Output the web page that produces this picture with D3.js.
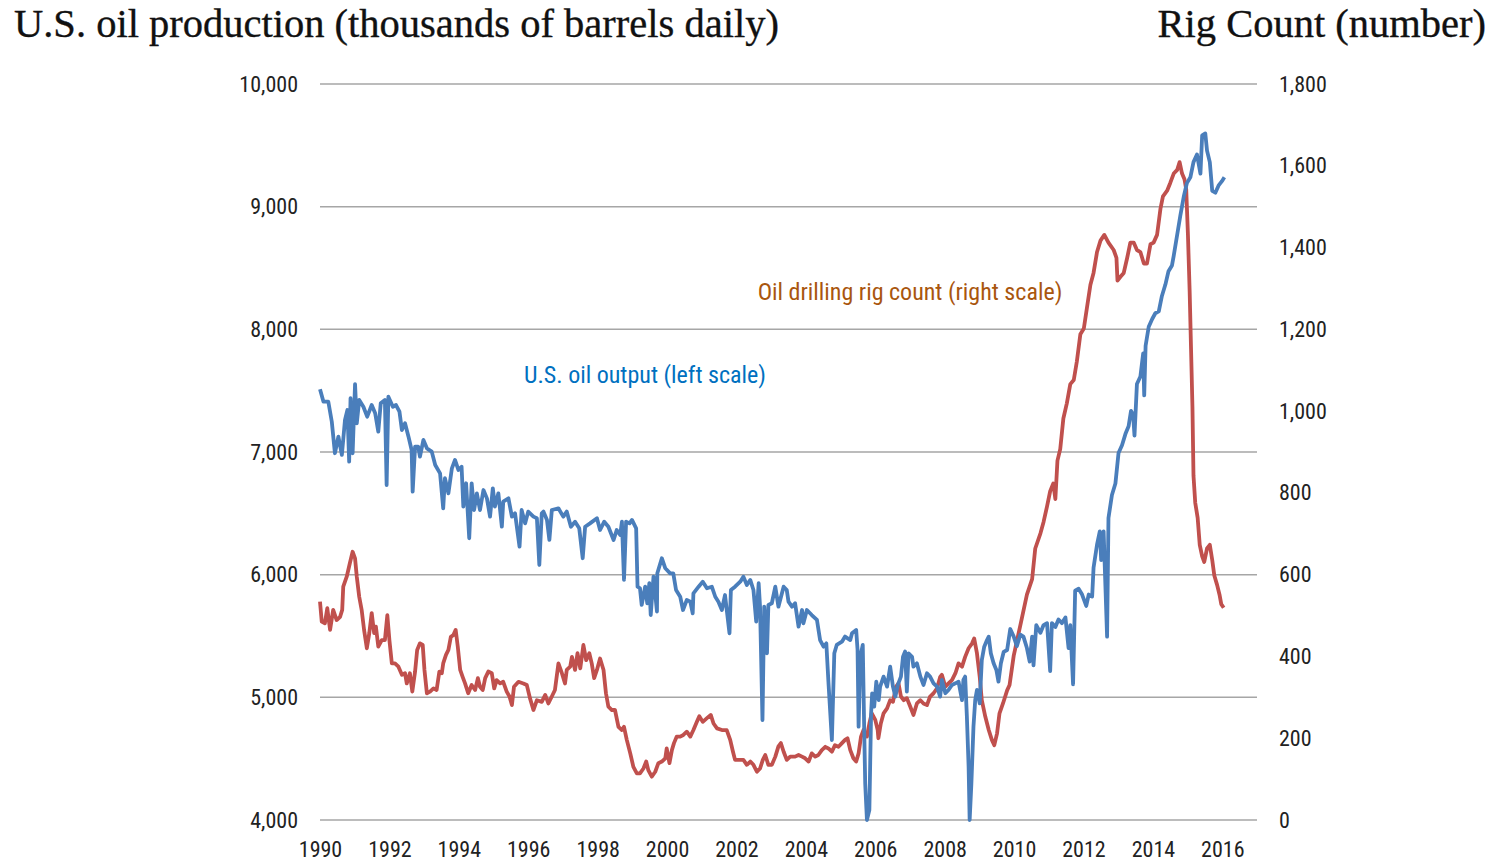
<!DOCTYPE html>
<html>
<head>
<meta charset="utf-8">
<script src="https://cdn.jsdelivr.net/npm/d3@7"></script>
<style>
  body { margin: 0; background: #fff; }
  .tick-label { font-family: "Liberation Sans Narrow", "Arial Narrow", "Roboto Condensed", sans-serif; font-size: 22px; fill: #222; }
  .series-label { font-family: "Liberation Sans Narrow", "Arial Narrow", "Roboto Condensed", sans-serif; font-size: 24px; }
  .title { font-family: "Liberation Serif", "DejaVu Serif", serif; font-size: 40.5px; fill: #111; stroke: #111; stroke-width: 0.35px; }
</style>
</head>
<body>
<div id="chart-area"></div>
<script>
/*
*    oil output vs rig count
*/
// weekly-ish readings, decimal years
var oilYears = [1990.00,1990.10,1990.24,1990.34,1990.43,1990.53,1990.63,1990.72,1990.79,1990.84,1990.88,1990.94,1991.01,1991.06,1991.13,1991.25,1991.36,1991.49,1991.59,1991.68,1991.75,1991.87,1991.92,1991.97,1992.10,1992.19,1992.29,1992.36,1992.45,1992.55,1992.64,1992.67,1992.74,1992.83,1992.88,1992.98,1993.08,1993.22,1993.32,1993.46,1993.55,1993.60,1993.70,1993.80,1993.89,1993.99,1994.08,1994.13,1994.21,1994.30,1994.37,1994.44,1994.52,1994.61,1994.71,1994.81,1994.90,1994.98,1995.04,1995.14,1995.24,1995.28,1995.43,1995.53,1995.62,1995.75,1995.81,1995.91,1996.00,1996.15,1996.25,1996.32,1996.39,1996.44,1996.54,1996.61,1996.68,1996.87,1997.01,1997.11,1997.23,1997.35,1997.47,1997.57,1997.64,1997.78,1997.98,1998.07,1998.19,1998.31,1998.46,1998.55,1998.65,1998.70,1998.76,1998.82,1998.92,1998.99,1999.11,1999.15,1999.22,1999.27,1999.37,1999.43,1999.49,1999.53,1999.61,1999.71,1999.72,1999.85,1999.95,2000.09,2000.18,2000.26,2000.38,2000.46,2000.57,2000.67,2000.74,2000.76,2000.91,2001.03,2001.15,2001.29,2001.39,2001.48,2001.58,2001.67,2001.80,2001.84,2001.96,2002.11,2002.20,2002.30,2002.40,2002.49,2002.57,2002.64,2002.68,2002.75,2002.80,2002.88,2002.92,2003.02,2003.12,2003.21,2003.26,2003.36,2003.45,2003.50,2003.60,2003.69,2003.79,2003.89,2003.93,2004.03,2004.17,2004.32,2004.41,2004.51,2004.59,2004.65,2004.75,2004.82,2004.89,2005.04,2005.13,2005.28,2005.33,2005.45,2005.49,2005.52,2005.57,2005.64,2005.68,2005.71,2005.76,2005.83,2005.88,2005.91,2005.97,2006.03,2006.10,2006.14,2006.24,2006.34,2006.43,2006.51,2006.58,2006.65,2006.74,2006.80,2006.86,2006.91,2006.96,2007.06,2007.10,2007.20,2007.30,2007.39,2007.49,2007.58,2007.68,2007.78,2007.87,2007.92,2008.02,2008.11,2008.21,2008.31,2008.40,2008.50,2008.54,2008.59,2008.64,2008.69,2008.72,2008.77,2008.83,2008.88,2008.93,2009.01,2009.07,2009.14,2009.22,2009.27,2009.33,2009.41,2009.49,2009.55,2009.62,2009.70,2009.80,2009.89,2009.99,2010.08,2010.18,2010.27,2010.37,2010.45,2010.52,2010.56,2010.64,2010.76,2010.85,2010.95,2011.04,2011.09,2011.19,2011.28,2011.38,2011.48,2011.57,2011.62,2011.70,2011.76,2011.86,2011.96,2012.08,2012.15,2012.25,2012.29,2012.39,2012.47,2012.51,2012.58,2012.68,2012.72,2012.82,2012.92,2013.01,2013.11,2013.21,2013.30,2013.37,2013.43,2013.47,2013.54,2013.64,2013.72,2013.75,2013.79,2013.88,2013.98,2014.07,2014.17,2014.26,2014.36,2014.45,2014.55,2014.60,2014.70,2014.79,2014.89,2014.98,2015.08,2015.17,2015.27,2015.37,2015.42,2015.51,2015.56,2015.64,2015.71,2015.80,2015.90,2015.99,2016.06];
var oilValues = [7511,7410,7410,7247,6990,7125,6976,7261,7342,6921,7438,6990,7554,7234,7424,7369,7288,7383,7316,7166,7397,7424,6731,7451,7369,7383,7329,7179,7234,7125,7016,6677,7043,7043,6962,7098,7030,7003,6894,6826,6541,6786,6663,6867,6935,6853,6880,6555,6745,6297,6745,6527,6663,6527,6690,6622,6473,6704,6555,6663,6391,6595,6622,6473,6500,6228,6527,6418,6514,6473,6460,6079,6500,6514,6446,6283,6527,6541,6473,6514,6391,6432,6378,6134,6391,6418,6460,6364,6432,6391,6283,6364,6323,6432,5957,6432,6418,6446,6378,5902,5889,5753,5902,5767,5930,5671,5984,5699,6011,6134,6052,6011,6011,5875,5820,5712,5794,5780,5685,5848,5902,5943,5889,5902,5820,5780,5712,5834,5522,5875,5902,5943,5984,5916,5957,5875,5617,5930,5739,4815,5739,5359,5753,5767,5902,5739,5794,5902,5875,5780,5739,5767,5576,5712,5604,5712,5671,5631,5467,5413,5440,5128,4652,5359,5427,5454,5495,5467,5522,5549,5386,4761,5331,5427,4761,4299,4000,4082,4870,5033,4924,5128,4978,5087,5169,5087,5250,5087,5006,5101,5169,5331,5373,5047,5359,5331,5250,5278,5169,5101,5196,5169,5114,5087,5006,5142,5033,5060,5101,5114,5128,4978,5142,5169,4843,4435,4000,4299,4761,4978,5060,4951,5304,5413,5467,5495,5359,5278,5223,5128,5278,5370,5386,5557,5495,5417,5511,5495,5402,5292,5495,5261,5589,5526,5589,5605,5214,5605,5573,5635,5605,5651,5402,5589,5105,5869,5885,5838,5745,5838,5822,6056,6244,6353,6119,6353,5495,6462,6650,6743,6992,7055,7148,7210,7335,7304,7133,7554,7616,7804,7461,7866,8021,8084,8131,8146,8272,8365,8474,8521,8599,8771,8926,9083,9192,9239,9363,9426,9270,9582,9597,9457,9363,9129,9114,9176,9208,9239];

var rigYears = [1990.00,1990.05,1990.14,1990.21,1990.29,1990.38,1990.48,1990.58,1990.64,1990.67,1990.77,1990.86,1990.94,1991.01,1991.06,1991.13,1991.20,1991.27,1991.35,1991.42,1991.49,1991.56,1991.61,1991.68,1991.78,1991.87,1991.94,1992.00,1992.07,1992.16,1992.26,1992.36,1992.45,1992.50,1992.59,1992.66,1992.74,1992.80,1992.88,1992.96,1993.01,1993.08,1993.17,1993.27,1993.36,1993.44,1993.51,1993.55,1993.63,1993.70,1993.77,1993.84,1993.91,1993.97,1994.04,1994.11,1994.18,1994.27,1994.37,1994.47,1994.55,1994.61,1994.69,1994.76,1994.85,1994.95,1995.02,1995.09,1995.19,1995.28,1995.38,1995.46,1995.53,1995.59,1995.72,1995.86,1995.96,1996.05,1996.15,1996.25,1996.39,1996.49,1996.58,1996.68,1996.77,1996.87,1996.97,1997.06,1997.11,1997.21,1997.26,1997.35,1997.42,1997.50,1997.59,1997.67,1997.76,1997.83,1997.90,1997.98,1998.07,1998.17,1998.24,1998.31,1998.41,1998.50,1998.60,1998.70,1998.76,1998.84,1998.94,1999.03,1999.13,1999.22,1999.32,1999.40,1999.46,1999.56,1999.66,1999.75,1999.85,1999.95,1999.99,2000.07,2000.14,2000.20,2000.28,2000.38,2000.47,2000.57,2000.67,2000.76,2000.86,2000.93,2001.03,2001.15,2001.26,2001.34,2001.44,2001.58,2001.72,2001.82,2001.90,2001.96,2002.06,2002.20,2002.30,2002.40,2002.49,2002.59,2002.68,2002.76,2002.83,2002.92,2003.02,2003.12,2003.21,2003.28,2003.36,2003.45,2003.55,2003.69,2003.79,2003.89,2003.98,2004.08,2004.17,2004.27,2004.36,2004.46,2004.56,2004.65,2004.75,2004.84,2004.94,2005.04,2005.13,2005.20,2005.28,2005.37,2005.45,2005.52,2005.59,2005.66,2005.76,2005.83,2005.90,2006.00,2006.07,2006.09,2006.16,2006.24,2006.34,2006.43,2006.51,2006.60,2006.67,2006.74,2006.82,2006.91,2007.01,2007.10,2007.20,2007.30,2007.39,2007.49,2007.58,2007.68,2007.78,2007.87,2007.92,2008.02,2008.11,2008.21,2008.31,2008.40,2008.50,2008.59,2008.69,2008.79,2008.85,2008.93,2009.01,2009.07,2009.17,2009.27,2009.36,2009.43,2009.51,2009.58,2009.68,2009.80,2009.87,2009.99,2010.18,2010.37,2010.52,2010.61,2010.76,2010.85,2010.95,2011.04,2011.13,2011.19,2011.25,2011.33,2011.42,2011.52,2011.62,2011.72,2011.81,2011.91,2012.01,2012.10,2012.20,2012.29,2012.39,2012.49,2012.60,2012.72,2012.87,2012.95,2012.98,2013.06,2013.16,2013.26,2013.35,2013.45,2013.54,2013.64,2013.74,2013.83,2013.93,2014.02,2014.12,2014.22,2014.29,2014.41,2014.50,2014.60,2014.70,2014.77,2014.84,2014.91,2014.96,2015.01,2015.06,2015.10,2015.14,2015.17,2015.22,2015.29,2015.35,2015.42,2015.48,2015.56,2015.64,2015.71,2015.77,2015.85,2015.92,2015.97,2016.04];
var rigValues = [534,485,481,518,465,514,489,497,514,571,595,628,656,640,595,546,514,465,420,457,506,457,473,424,440,440,501,440,383,383,375,355,359,334,359,314,363,416,432,428,367,310,314,322,318,363,359,383,404,416,448,452,465,424,367,350,334,310,330,318,347,326,318,347,363,359,322,342,334,338,314,302,281,326,338,334,330,298,269,293,289,306,285,302,318,383,359,334,367,375,399,367,408,371,428,391,408,383,347,367,395,367,310,277,269,269,228,220,228,196,163,130,114,114,126,143,122,106,118,139,143,151,175,139,171,188,204,204,208,216,204,220,240,254,240,249,257,236,224,220,220,196,167,147,147,147,135,143,135,118,126,147,159,135,135,155,180,188,167,147,155,155,159,155,151,143,163,155,159,171,179,175,167,183,179,188,196,200,171,151,143,163,204,220,204,236,261,245,220,200,236,261,273,293,289,326,334,302,293,298,277,257,285,293,285,281,302,310,322,350,355,326,334,342,359,383,375,399,420,432,444,408,350,293,253,220,196,183,212,261,285,317,330,402,476,551,589,664,701,729,767,804,823,785,879,907,982,1019,1066,1076,1122,1188,1202,1253,1309,1338,1389,1417,1431,1412,1394,1375,1319,1328,1338,1375,1412,1412,1394,1389,1361,1361,1408,1412,1431,1496,1525,1539,1558,1581,1590,1609,1581,1567,1543,1431,1291,1150,1010,842,776,739,673,645,631,664,673,636,598,575,551,528,519];

var yearTicks = [1990,1992,1994,1996,1998,2000,2002,2004,2006,2008,2010,2012,2014,2016];
var leftTicks = [4000,5000,6000,7000,8000,9000,10000];
var rightTicks = [0,200,400,600,800,1000,1200,1400,1600,1800];

var width = 1492, height = 862;
var fmt = d3.format(",");

var svg = d3.select("#chart-area").append("svg")
		.attr("width", width)
		.attr("height", height);

var x = d3.scaleLinear().domain([1990, 2017]).range([320, 1257]);
var yLeft = d3.scaleLinear().domain([4000, 10000]).range([820, 84]);
var yRight = d3.scaleLinear().domain([0, 1800]).range([820, 84]);

// gridlines
svg.selectAll(".grid").data(leftTicks).enter()
	.append("line")
		.attr("x1", 320)
		.attr("x2", 1257)
		.attr("y1", d => yLeft(d))
		.attr("y2", d => yLeft(d))
		.attr("stroke", "#a6a6a6")
		.attr("stroke-width", 1.5);

// axes (text only, like excel)
var leftAxis = svg.append("g")
		.attr("transform", "translate(320,0)")
		.call(d3.axisLeft(yLeft).tickValues(leftTicks).tickFormat(fmt).tickSize(0).tickPadding(22));
var rightAxis = svg.append("g")
		.attr("transform", "translate(1257,0)")
		.call(d3.axisRight(yRight).tickValues(rightTicks).tickFormat(fmt).tickSize(0).tickPadding(22));
var bottomAxis = svg.append("g")
		.attr("transform", "translate(0,820)")
		.call(d3.axisBottom(x).tickValues(yearTicks).tickFormat(d3.format("d")).tickSize(0).tickPadding(21));

[leftAxis, rightAxis, bottomAxis].forEach(g => {
	g.select(".domain").remove();
	g.selectAll("text").attr("class", "tick-label").attr("fill", null);
});

svg.append("clipPath").attr("id", "plot")
	.append("rect").attr("x", 300).attr("y", 60).attr("width", 960).attr("height", 762);

var oilLine = d3.line()
		.x((d, i) => x(oilYears[i]))
		.y(d => yLeft(d));
var rigLine = d3.line()
		.x((d, i) => x(rigYears[i]))
		.y(d => yRight(d));

svg.append("path")
		.attr("d", rigLine(rigValues))
		.attr("clip-path", "url(#plot)")
		.attr("fill", "none")
		.attr("stroke", "#c0504d")
		.attr("stroke-width", 3.8)
		.attr("stroke-linejoin", "round");

svg.append("path")
		.attr("d", oilLine(oilValues))
		.attr("clip-path", "url(#plot)")
		.attr("fill", "none")
		.attr("stroke", "#4a7ebb")
		.attr("stroke-width", 3.8)
		.attr("stroke-linejoin", "round");

// series labels
svg.append("text")
		.attr("class", "series-label")
		.attr("x", 645)
		.attr("y", 383)
		.attr("text-anchor", "middle")
		.style("fill", "#0070c0")
		.text("U.S. oil output (left scale)");
svg.append("text")
		.attr("class", "series-label")
		.attr("x", 910)
		.attr("y", 300)
		.attr("text-anchor", "middle")
		.style("fill", "#a9560e")
		.text("Oil drilling rig count (right scale)");

// titles
svg.append("text")
		.attr("class", "title")
		.attr("x", 14)
		.attr("y", 37)
		.text("U.S. oil production (thousands of barrels daily)");
svg.append("text")
		.attr("class", "title")
		.attr("x", 1486)
		.attr("y", 37)
		.attr("text-anchor", "end")
		.text("Rig Count (number)");
</script>
</body>
</html>
